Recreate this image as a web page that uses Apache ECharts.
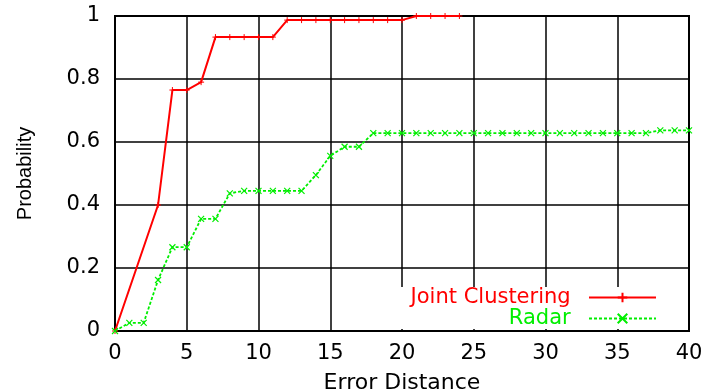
<!DOCTYPE html>
<html>
<head>
<meta charset="utf-8">
<script src="https://cdn.jsdelivr.net/npm/echarts@6/dist/echarts.min.js"></script>
<style>
  html, body { margin: 0; padding: 0; background: #fff; }
  #chart { width: 704px; height: 392px; }
</style>
</head>
<body>
<div id="chart"></div>
<script>
  // values: [error distance, probability]
  const jointX = [0, 3, 4, 5, 6, 7, 8, 9, 10, 11, 12, 13, 14, 15, 16, 17, 18, 19, 20, 21, 22, 23, 24];
  const jointY = [0, 0.40, 0.765, 0.765, 0.79, 0.933, 0.933, 0.933, 0.933, 0.933,
    0.987, 0.987, 0.987, 0.987, 0.987, 0.987, 0.987, 0.987, 0.987, 1, 1, 1, 1];
  const radarX = [0, 1, 2, 3, 4, 5, 6, 7, 8, 9, 10, 11, 12, 13, 14, 15, 16, 17, 18, 19, 20,
    21, 22, 23, 24, 25, 26, 27, 28, 29, 30, 31, 32, 33, 34, 35, 36, 37, 38, 39, 40];
  const radarY = [0, 0.026, 0.026, 0.162, 0.266, 0.266, 0.356, 0.356, 0.437, 0.445, 0.445,
    0.445, 0.445, 0.445, 0.495, 0.556, 0.585, 0.585, 0.628, 0.628, 0.628, 0.628, 0.628,
    0.628, 0.628, 0.628, 0.628, 0.628, 0.628, 0.628, 0.628, 0.628, 0.628, 0.628, 0.628,
    0.628, 0.628, 0.628, 0.637, 0.637, 0.637];
  const yTicks = ['0', '0.2', '0.4', '0.6', '0.8', '1'];

  const red = '#ff0000';
  const green = '#00ee00';
  const font = 'DejaVu Sans';

  const pairs = (xs, ys) => xs.map((x, i) => [x, ys[i]]);

  let myChart = echarts.init(document.getElementById('chart'));
  myChart.setOption({
    animation: false,
    grid: {
      left: 115, right: 15, top: 16, bottom: 61,
      outerBoundsMode: 'none',
      containLabel: false,
      show: true, borderColor: '#000', borderWidth: 2
    },
    legend: {
      orient: 'vertical',
      right: 17,
      top: 287,
      align: 'right',
      padding: [0, 30, 0, 16],
      backgroundColor: '#fff',
      itemWidth: 67,
      itemHeight: 12,
      itemGap: 0,
      formatter: function (name) { return name + '  '; },
      textStyle: { fontFamily: font, fontSize: 21 },
      data: [
        { name: 'Joint Clustering', textStyle: { color: red } },
        { name: 'Radar', textStyle: { color: green } }
      ]
    },
    xAxis: {
      type: 'value',
      min: 0, max: 40, interval: 5,
      name: 'Error Distance',
      nameLocation: 'middle',
      nameGap: 41,
      nameTextStyle: { fontFamily: font, fontSize: 22, color: '#000' },
      axisLine: { show: false },
      axisTick: { show: false },
      axisLabel: { margin: 12, fontFamily: font, fontSize: 21, color: '#000' },
      splitLine: { show: true, lineStyle: { color: '#000', width: 1.5 } }
    },
    yAxis: {
      type: 'value',
      min: 0, max: 1, interval: 0.2,
      name: 'Probability',
      nameLocation: 'middle',
      nameGap: 80,
      nameTextStyle: { fontFamily: 'Liberation Sans', fontSize: 20, color: '#000' },
      axisLine: { show: false },
      axisTick: { show: false },
      axisLabel: {
        margin: 15, fontFamily: font, fontSize: 21, color: '#000',
        formatter: function (v) { return yTicks[Math.round(v / 0.2)]; }
      },
      splitLine: { show: true, lineStyle: { color: '#000', width: 1.5 } }
    },
    series: [
      {
        name: 'Joint Clustering',
        type: 'line',
        data: pairs(jointX, jointY),
        color: red,
        symbol: 'path://M0,5L10,5M5,0L5,10',
        symbolSize: 6,
        itemStyle: { color: red, borderColor: red, borderWidth: 1 },
        lineStyle: { color: red, width: 2 },
        z: 3
      },
      {
        name: 'Radar',
        type: 'line',
        data: pairs(radarX, radarY),
        color: green,
        symbol: 'path://M0,0L10,10M10,0L0,10',
        symbolSize: 6,
        itemStyle: { color: green, borderColor: green, borderWidth: 1.2 },
        lineStyle: { color: green, width: 1.8, type: [3, 2] },
        z: 3
      }
    ]
  });
</script>
</body>
</html>
